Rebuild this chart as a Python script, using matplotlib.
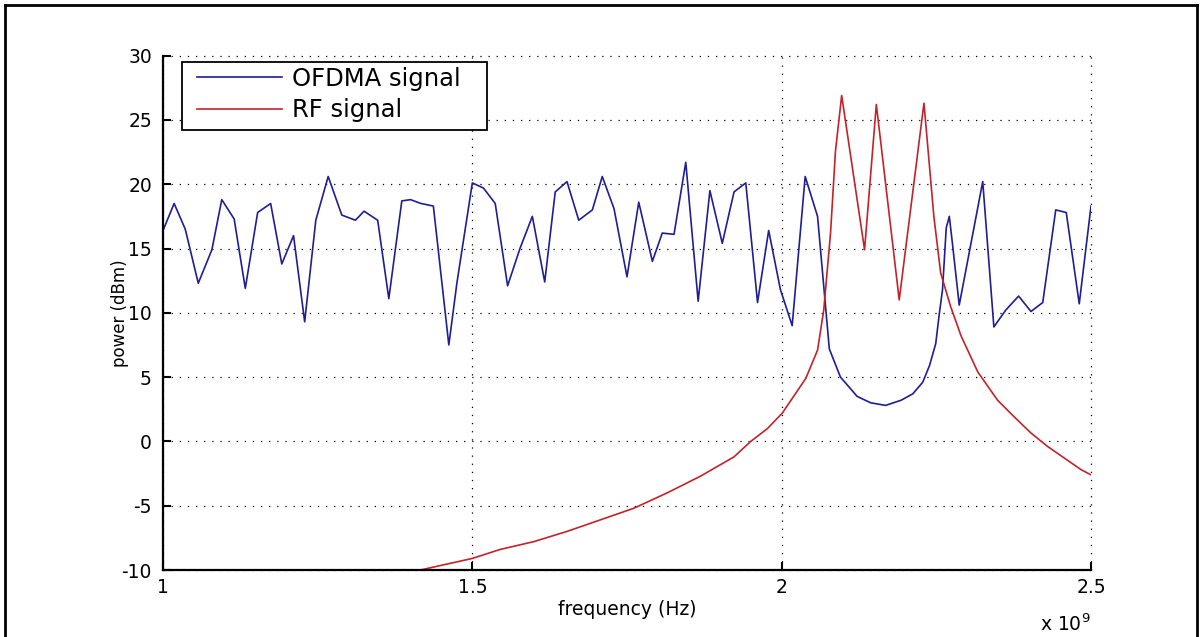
import matplotlib
matplotlib.use("Agg")
import matplotlib.pyplot as plt
from matplotlib.lines import Line2D
from matplotlib.patches import Rectangle

# ---------------- data ----------------
ofdma_freq_ghz = [1.000, 1.018, 1.036, 1.057, 1.079, 1.095, 1.115, 1.133, 1.153, 1.174,
                  1.192, 1.211, 1.229, 1.247, 1.267, 1.289, 1.311, 1.325, 1.347, 1.365,
                  1.386, 1.400, 1.417, 1.437, 1.462, 1.475, 1.500, 1.518, 1.537, 1.557,
                  1.577, 1.597, 1.617, 1.634, 1.653, 1.672, 1.694, 1.710, 1.729, 1.750,
                  1.769, 1.791, 1.807, 1.826, 1.845, 1.865, 1.884, 1.904, 1.923, 1.942,
                  1.961, 1.979, 1.998, 2.017, 2.038, 2.058, 2.077, 2.095, 2.122, 2.144,
                  2.168, 2.193, 2.212, 2.228, 2.239, 2.249, 2.255, 2.260, 2.266, 2.271,
                  2.276, 2.287, 2.325, 2.343, 2.362, 2.383, 2.403, 2.422, 2.443, 2.460,
                  2.481, 2.500]
ofdma_power = [16.4, 18.5, 16.5, 12.3, 14.9, 18.8, 17.3, 11.9, 17.8, 18.5,
               13.8, 16.0, 9.3, 17.2, 20.6, 17.6, 17.2, 17.9, 17.2, 11.1,
               18.7, 18.8, 18.5, 18.3, 7.5, 12.3, 20.1, 19.7, 18.5, 12.1,
               15.0, 17.5, 12.4, 19.4, 20.2, 17.2, 18.0, 20.6, 18.1, 12.8,
               18.6, 14.0, 16.2, 16.1, 21.7, 10.9, 19.5, 15.4, 19.4, 20.1,
               10.8, 16.4, 11.8, 9.0, 20.6, 17.5, 7.2, 5.0, 3.5, 3.0,
               2.8, 3.2, 3.7, 4.6, 5.9, 7.6, 10.0, 11.8, 16.6, 17.5,
               15.4, 10.6, 20.2, 8.9, 10.2, 11.3, 10.1, 10.8, 18.0, 17.8,
               10.7, 18.3]

rf_freq_ghz = [1.416, 1.500, 1.545, 1.599, 1.653, 1.707, 1.761, 1.815, 1.869, 1.923,
               1.950, 1.977, 2.001, 2.039, 2.058, 2.068, 2.079, 2.087, 2.097, 2.134,
               2.153, 2.190, 2.230, 2.246, 2.257, 2.273, 2.290, 2.317, 2.349, 2.376,
               2.403, 2.430, 2.457, 2.484, 2.500]
rf_power = [-10.0, -9.1, -8.4, -7.8, -7.0, -6.1, -5.2, -4.0, -2.7, -1.2,
            0.0, 1.0, 2.2, 4.9, 7.1, 10.2, 16.2, 22.6, 26.9, 14.9,
            26.2, 11.0, 26.3, 17.5, 13.1, 10.5, 8.2, 5.4, 3.2, 1.9,
            0.65, -0.4, -1.3, -2.2, -2.6]

x_ticks_ghz = [1.0, 1.5, 2.0, 2.5]
x_tick_labels = ["1", "1.5", "2", "2.5"]
y_ticks = [-10, -5, 0, 5, 10, 15, 20, 25, 30]
series_labels = ["OFDMA signal", "RF signal"]

# ---------------- figure ----------------
W, H = 1203, 637
fig = plt.figure(figsize=(W / 100, H / 100), dpi=100)
fig.patch.set_facecolor("white")
plt.rcParams["font.family"] = ["DejaVu Sans"]

ax_left, ax_bottom_px, ax_w, ax_h = 163, 570, 928, 514.4
ax = fig.add_axes([ax_left / W, (H - ax_bottom_px) / H, ax_w / W, ax_h / H])


def px_to_axes(px, py):
    return (px - ax_left) / ax_w, (ax_bottom_px - py) / ax_h


ofdma_x = [f * 1e9 for f in ofdma_freq_ghz]
rf_x = [f * 1e9 for f in rf_freq_ghz]

ax.plot(ofdma_x, ofdma_power, color="#1e1e96", lw=1.2, label=series_labels[0], zorder=3)
ax.plot(rf_x, rf_power, color="#c4222a", lw=1.2, label=series_labels[1], zorder=3)

ax.set_xlim(1e9, 2.5e9)
ax.set_ylim(-10, 30)
ax.set_xticks([t * 1e9 for t in x_ticks_ghz])
ax.set_xticklabels(x_tick_labels)
ax.set_yticks(y_ticks)
ax.set_yticklabels([str(v) for v in y_ticks])

for side in ("top", "right"):
    ax.spines[side].set_visible(False)
for side in ("left", "bottom"):
    ax.spines[side].set_linewidth(1.6)
    ax.spines[side].set_color("black")
    ax.spines[side].set_zorder(5)

ax.tick_params(axis="both", direction="in", length=6, width=1.5, colors="black",
               labelsize=13.5, top=False, right=False)
ax.tick_params(axis="x", pad=6)
ax.tick_params(axis="y", pad=8)

ax.grid(True, color="black", linestyle=(0, (1, 5.5)), linewidth=0.9)
for gl in ax.get_xgridlines() + ax.get_ygridlines():
    gl.set_clip_on(False)

ax.set_xlabel("frequency (Hz)", fontsize=13.5, labelpad=2)
ax.set_ylabel("power (dBm)", fontsize=12)
ax.yaxis.set_label_coords(px_to_axes(129, 0)[0], 0.5)

ax.text(1.0, -0.085, "x 10$^{9}$", transform=ax.transAxes, ha="right", va="top",
        fontsize=13.5)

# legend box (drawn as a frame) + legend entries
bx0, by0 = px_to_axes(182, 130)
bx1, by1 = px_to_axes(487, 62)
ax.add_patch(Rectangle((bx0, by0), bx1 - bx0, by1 - by0, transform=ax.transAxes,
                       facecolor="white", edgecolor="black", lw=1.3, zorder=6,
                       clip_on=False))
leg = ax.legend(loc="upper left", bbox_to_anchor=px_to_axes(197, 67),
                borderaxespad=0, frameon=False, fontsize=17.5, handlelength=3.5,
                handletextpad=0.4, borderpad=0.0, labelspacing=0.3)
leg.set_zorder(7)

# figure frame (left, top, right)
lw_frame = 2.0
fig.add_artist(Line2D([5 / W, 5 / W], [0, 1 - 5 / H], transform=fig.transFigure,
                      color="black", lw=lw_frame))
fig.add_artist(Line2D([5 / W, 1197 / W], [1 - 5 / H, 1 - 5 / H], transform=fig.transFigure,
                      color="black", lw=lw_frame))
fig.add_artist(Line2D([1197 / W, 1197 / W], [0, 1 - 5 / H], transform=fig.transFigure,
                      color="black", lw=lw_frame))

fig.savefig("out.png", dpi=100, facecolor="white")
